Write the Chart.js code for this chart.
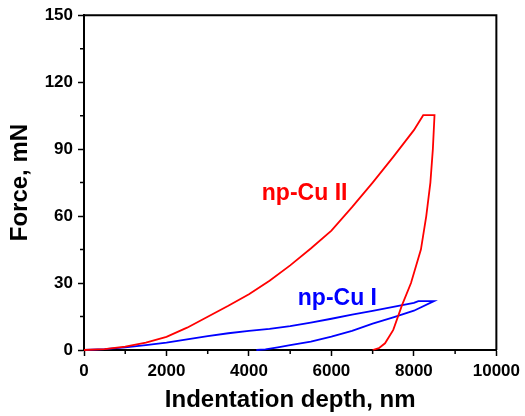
<!DOCTYPE html>
<html>
<head>
<meta charset="utf-8">
<script src="https://cdn.jsdelivr.net/npm/chart.js@4"></script>
<style>
  html, body { margin: 0; padding: 0; background: #fff; }
  #wrap { width: 525px; height: 416px; }
</style>
</head>
<body>
<div id="wrap"><canvas id="chart"></canvas></div>
<script>
'use strict';

// np-Cu II (red), loading -> hold -> unloading
var redDepth = [0, 500, 1000, 1500, 2000, 2500, 3000, 3500, 4000, 4500, 5000, 5500, 6000, 6500, 7000, 7500, 8000, 8226,
  8500, 8460, 8400, 8300, 8170, 7930, 7710, 7500, 7300, 7150, 7000];
var redForce = [0, 0.4, 1.5, 3.3, 5.9, 10, 14.9, 19.8, 25, 31, 37.9, 45.5, 53.5, 64, 75, 86.5, 98.5, 105.2,
  105.2, 90, 75, 60, 45, 30, 20, 9, 3, 0.8, 0];

// np-Cu I (blue)
var blueDepth = [0, 500, 1000, 1500, 2000, 2500, 3000, 3500, 4000, 4500, 5000, 5500, 6000, 6500, 7000, 7500, 8000, 8108,
  8487, 8000, 7500, 7000, 6500, 6000, 5500, 5000, 4700, 4400, 4180];
var blueForce = [0, 0.4, 1.2, 2.2, 3.3, 4.8, 6.2, 7.5, 8.6, 9.5, 10.7, 12.3, 14, 15.8, 17.5, 19.3, 21.1, 21.9,
  21.9, 17.6, 14.6, 11.8, 8.6, 6, 3.8, 2.2, 1.2, 0.3, 0];

var xTicks = [0, 2000, 4000, 6000, 8000, 10000];
var xMinor = [1000, 3000, 5000, 7000, 9000];
var yTicks = [0, 30, 60, 90, 120, 150];
var yMinor = [15, 45, 75, 105, 135];

var labelTexts = ['np-Cu II', 'np-Cu I'];
var labelX = [5350, 6145];
var labelY = [67.2, 20.1];
var labelColors = ['#ff0000', '#0000ff'];

var FONT = "'Liberation Sans', Arial, sans-serif";
Chart.defaults.font.family = FONT;
Chart.defaults.color = '#000';

var toPoints = function(xs, ys){
  var pts = [];
  xs.forEach(function(x, i){ pts.push({x: x, y: ys[i]}); });
  return pts;
};

// box top/right edges, minor ticks and the in-plot labels
var extras = {
  id: 'extras',
  afterDraw: function(chart){
    var ctx = chart.ctx;
    var a = chart.chartArea;
    var xs = chart.scales.x, ys = chart.scales.y;
    ctx.save();
    ctx.strokeStyle = '#000';
    ctx.lineWidth = 2;
    ctx.beginPath();
    ctx.moveTo(a.left, a.top);
    ctx.lineTo(a.right, a.top);
    ctx.lineTo(a.right, a.bottom);
    ctx.stroke();

    ctx.lineWidth = 1.5;
    ctx.beginPath();
    xMinor.forEach(function(v){
      var px = xs.getPixelForValue(v);
      ctx.moveTo(px, a.bottom);
      ctx.lineTo(px, a.bottom + 4);
    });
    yMinor.forEach(function(v){
      var py = ys.getPixelForValue(v);
      ctx.moveTo(a.left, py);
      ctx.lineTo(a.left - 4, py);
    });
    ctx.stroke();

    ctx.font = 'bold 23px ' + FONT;
    ctx.textAlign = 'center';
    ctx.textBaseline = 'alphabetic';
    labelTexts.forEach(function(t, i){
      ctx.fillStyle = labelColors[i];
      ctx.fillText(t, xs.getPixelForValue(labelX[i]), ys.getPixelForValue(labelY[i]));
    });
    ctx.restore();
  }
};

var lineSet = function(label, xs, ys, color){
  return {
    label: label,
    data: toPoints(xs, ys),
    showLine: true,
    borderColor: color,
    backgroundColor: color,
    borderWidth: 1.8,
    pointRadius: 0,
    tension: 0,
    fill: false,
    clip: false
  };
};

var plain = function(v){ return String(v); };

var chart = new Chart(document.getElementById('chart'), {
  type: 'scatter',
  data: {
    datasets: [
      lineSet('np-Cu II', redDepth, redForce, '#ff0000'),
      lineSet('np-Cu I', blueDepth, blueForce, '#0000ff')
    ]
  },
  options: {
    responsive: true,
    maintainAspectRatio: false,
    animation: false,
    layout: { padding: { top: 14, right: 27, left: 0, bottom: 0 } },
    plugins: { legend: { display: false }, tooltip: { enabled: false } },
    scales: {
      x: {
        type: 'linear',
        min: 0,
        max: 10000,
        afterBuildTicks: function(s){ s.ticks = xTicks.map(function(v){ return {value: v}; }); },
        afterFit: function(s){ s.height = 66; },
        border: { color: '#000', width: 2 },
        grid: { drawOnChartArea: false, drawTicks: true, tickLength: 6, tickColor: '#000', tickWidth: 1.5 },
        ticks: { font: { size: 17, weight: 'bold' }, padding: 5, maxRotation: 0, callback: plain },
        title: { display: true, text: 'Indentation depth, nm', font: { size: 24, weight: 'bold' }, padding: { top: 0, bottom: 1 } }
      },
      y: {
        type: 'linear',
        min: 0,
        max: 150,
        afterBuildTicks: function(s){ s.ticks = yTicks.map(function(v){ return {value: v}; }); },
        afterFit: function(s){ s.width = 84; },
        border: { color: '#000', width: 2 },
        grid: { drawOnChartArea: false, drawTicks: true, tickLength: 6, tickColor: '#000', tickWidth: 1.5 },
        ticks: { font: { size: 17, weight: 'bold' }, padding: 5, callback: plain },
        title: { display: true, text: 'Force, mN', font: { size: 24, weight: 'bold' }, padding: { top: 6, bottom: 0 } }
      }
    }
  },
  plugins: [extras]
});
</script>
</body>
</html>
